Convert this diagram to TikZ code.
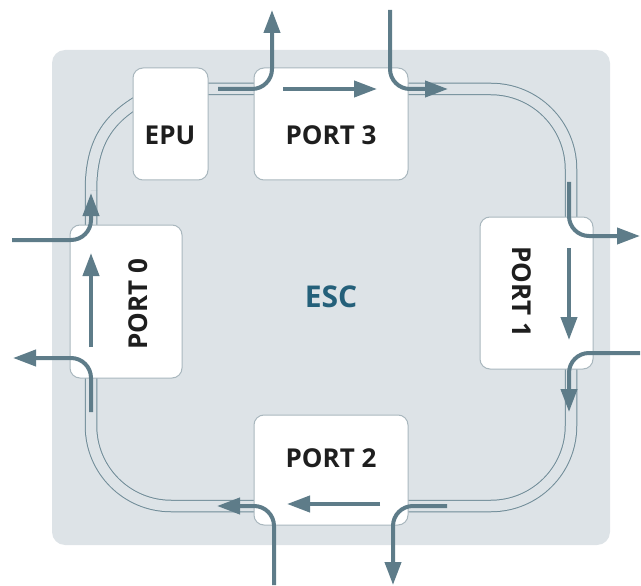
\documentclass[tikz,border=0pt]{standalone}
\usepackage{fontspec}
\setmainfont{Open Sans}
\usetikzlibrary{arrows.meta}
\definecolor{bgc}{HTML}{DDE3E7}
\definecolor{boxc}{HTML}{A9B7BE}
\definecolor{ringc}{HTML}{6F8B97}
\definecolor{flowc}{HTML}{5E7C89}
\definecolor{escc}{HTML}{24607A}
\definecolor{txtc}{HTML}{1E1E1E}
\begin{document}
\begin{tikzpicture}[x=1pt,y=-1pt,
  box/.style={fill=white,draw=boxc,line width=1pt,rounded corners=10pt,inner sep=0pt},
  lbl/.style={anchor=base,inner sep=0pt,text=txtc,font=\fontsize{26}{26}\selectfont\bfseries},
  ring/.style={draw=ringc,line width=1pt,double=bgc,double distance=10.5pt},
  flow/.style={draw=flowc,line width=4pt,-{Triangle[length=23pt,width=16pt]},rounded corners=20pt}]
\useasboundingbox (0,0) rectangle (641,586);
\fill[bgc,rounded corners=13pt] (52,50) rectangle (610,545);
% ring
\draw[ring,rounded corners=80pt] (160,89) -- (571,89) -- (571,506) -- (91,506) -- (91,190);
\draw[ring] (91,190) .. controls (91,140) and (110,115) .. (150,95);
% boxes
\node[box,minimum width=75pt,minimum height=112pt](EPU) at (170.5,124){};
\node[box,minimum width=154pt,minimum height=112pt](P3) at (331,124){};
\node[box,minimum width=112pt,minimum height=153pt](P0) at (126,301.5){};
\node[box,minimum width=113pt,minimum height=152pt](P1) at (536.5,293){};
\node[box,minimum width=154pt,minimum height=110pt](P2) at (331,470){};
\node[lbl](EPUt) at (170,145){EPU};
\node[lbl](P3t) at (331,145){PORT 3};
\node[lbl,rotate=90](P0t) at (147,304){PORT 0};
\node[lbl,rotate=-90](P1t) at (512,292){PORT 1};
\node[lbl](P2t) at (331,467){PORT 2};
\node[lbl,text=escc,font=\fontsize{30}{30}\selectfont\bfseries](ESC) at (331,307){ESC};
% free ends
\coordinate (in3) at (390,10);
\coordinate (out3) at (272,10);
\coordinate (in1) at (640,353);
\coordinate (out1) at (640,236);
\coordinate (in2) at (274,585);
\coordinate (out2) at (393,585);
\coordinate (in0) at (12,240);
\coordinate (out0) at (13,358);
% flows
\draw[flow] (in3) |- (448,89);
\draw[flow] (218,89) -| (out3);
\draw[flow] (283,89) -- (377,89);
\draw[flow] (569,182) |- (out1);
\draw[flow] (in1) -| (569,412);
\draw[flow] (569,248) -- (569,340);
\draw[flow] (447,506) -| (out2);
\draw[flow] (in2) |- (217,506);
\draw[flow] (380,504) -- (287,504);
\draw[flow] (91,412) |- (out0);
\draw[flow] (in0) -| (91,193);
\draw[flow] (91,347) -- (91,253);
\end{tikzpicture}
\end{document}
